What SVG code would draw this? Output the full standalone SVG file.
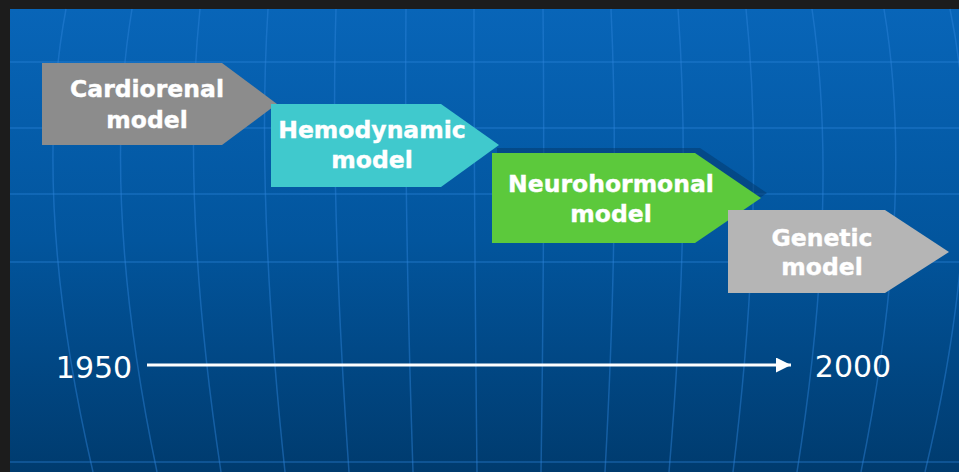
<svg xmlns="http://www.w3.org/2000/svg" width="959" height="472" viewBox="0 0 959 472">
<defs>
<linearGradient id="bg" x1="0" y1="0" x2="0" y2="1">
<stop offset="0" stop-color="#0865b8"/>
<stop offset="0.5" stop-color="#02559d"/>
<stop offset="1" stop-color="#003b6e"/>
</linearGradient>
<marker id="ah" markerWidth="6" markerHeight="6" refX="5" refY="2.5" orient="auto" markerUnits="strokeWidth">
<path d="M0,0 L5,2.5 L0,5 Z" fill="#ffffff"/>
</marker>
</defs>
<style>
.grid{fill:none;stroke:#2f86dc;stroke-width:1.5;opacity:0.45}
.lbl{font-family:"DejaVu Sans","Verdana",sans-serif;font-weight:bold;font-size:23.5px;fill:#ffffff;text-anchor:middle;stroke:#ffffff;stroke-width:0.4}
.yr{font-family:"DejaVu Sans","Verdana",sans-serif;font-size:30px;fill:#ffffff;text-anchor:middle}
</style>
<rect x="0" y="0" width="959" height="472" fill="#1c1c1c"/>
<rect x="10" y="9" width="949" height="463" fill="url(#bg)"/>
<g id="grid">
<path class="grid" d="M10,62 H959 M10,128 H959 M10,194 H959 M10,262 H959 M10,462 H959"/>
<path class="grid" d="M66,9 Q30,200 93,472 M132,9 Q100,200 157,472 M200,9 Q180,200 221,472 M268,9 Q256,200 285,472 M336,9 Q330,200 349,472 M406,9 Q404,200 413,472 M474,9 Q474,200 477,472 M543,9 Q545,200 541,472 M611,9 Q620,200 605,472 M678,9 Q692,200 669,472 M746,9 Q766,200 733,472 M812,9 Q840,200 797,472 M884,9 Q916,200 861,472 M950,9 Q990,200 925,472"/>
</g>
<g id="cardiorenal">
<polygon points="42,63 222,63 277,104 222,145 42,145" fill="#8c8c8c"/>
<text class="lbl" x="147" y="97">Cardiorenal</text>
<text class="lbl" x="147" y="128">model</text>
</g>
<g id="hemodynamic">
<polygon points="271,104 441,104 499,145 441,187 271,187" fill="#40c9cd"/>
<text class="lbl" x="372" y="138">Hemodynamic</text>
<text class="lbl" x="372" y="168">model</text>
</g>
<g id="neurohormonal">
<polygon points="497,148 700,148 767,193 700,238 497,238" fill="#03386a" opacity="0.5"/>
<polygon points="492,153 695,153 761,198 695,243 492,243" fill="#5cc93c"/>
<text class="lbl" x="611" y="192">Neurohormonal</text>
<text class="lbl" x="611" y="222">model</text>
</g>
<g id="genetic">
<polygon points="728,210 885,210 949,252 885,293 728,293" fill="#b5b5b5"/>
<text class="lbl" x="822" y="246">Genetic</text>
<text class="lbl" x="822" y="275">model</text>
</g>
<g id="connectors">
<line x1="147" y1="365" x2="791" y2="365" stroke="#ffffff" stroke-width="3" marker-end="url(#ah)"/>
</g>
<g id="timeline-labels">
<text class="yr" x="94" y="378">1950</text>
<text class="yr" x="853" y="377">2000</text>
</g>
</svg>
